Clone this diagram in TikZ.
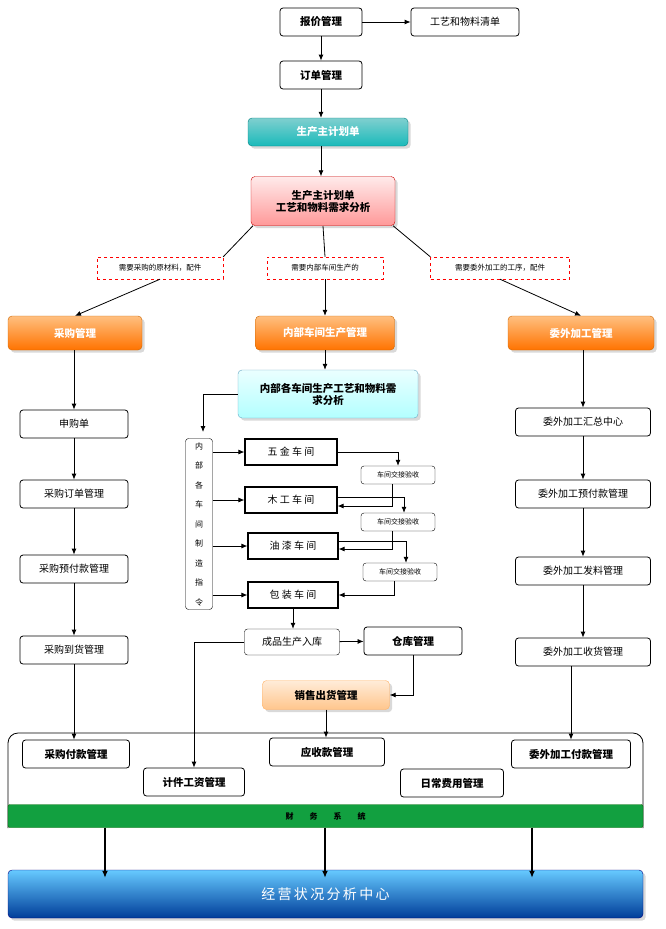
\documentclass[tikz,border=0pt]{standalone}
\usepackage{fontspec}
\setmainfont{Noto Sans CJK SC}
\usetikzlibrary{arrows.meta,shadows}
\definecolor{grn}{HTML}{12A040}
\begin{document}
\begin{tikzpicture}[x=1pt,y=-1pt,
 every node/.style={font=\fontsize{10}{12}\selectfont},
 box/.style={draw,thick,rounded corners=3pt,fill=white,minimum height=28pt,inner sep=2pt},
 bbox/.style={box,font=\bfseries\fontsize{10.5}{12}\selectfont},
 wk/.style={draw,very thick,minimum width=92pt,minimum height=26pt,font=\fontsize{10}{12}\selectfont},
 jj/.style={draw,rounded corners=3pt,minimum width=74pt,minimum height=18pt,font=\fontsize{7}{8}\selectfont},
 dl/.style={draw=red,dashed,fill=white,minimum height=22pt,font=\fontsize{7.5}{9}\selectfont},
 sh/.style={rounded corners=4pt,drop shadow={opacity=0.3},font=\bfseries\fontsize{10.5}{12}\selectfont},
 ar/.style={-{Latex[length=6pt,width=5pt]},thick},
 ln/.style={thick}]
\useasboundingbox (0,0) rectangle (665,929);
% top
\node[bbox,minimum width=82pt] (bj) at (321,22) {报价管理};
\node[box,minimum width=108pt] (gy) at (465,22) {工艺和物料清单};
\node[bbox,minimum width=82pt] (dd) at (321,75) {订单管理};
\node[sh,top color=cyan!25!teal!50,bottom color=teal!60!cyan!90,draw=teal,text=white,minimum width=160pt,minimum height=28pt] (jh) at (328,132) {生产主计划单};
\node[sh,top color=red!8,bottom color=red!40,draw=red!80!black,minimum width=144pt,minimum height=49pt,align=center] (fx) at (323,201) {生产主计划单\\工艺和物料需求分析};
\draw[ar] (bj) -- (gy);
\draw[ar] (bj) -- (dd);
\draw[ar] (dd) -- (dd |- jh.north);
\draw[ar] (jh.south -| dd) -- (dd |- fx.north);
% dashed labels
\node[dl,minimum width=126pt] (l1) at (160,268) {需要采购的原材料，配件};
\node[dl,minimum width=116pt] (l2) at (325,268) {需要内部车间生产的};
\node[dl,minimum width=139pt] (l3) at (500,268) {需要委外加工的工序，配件};
% orange
\node[sh,top color=orange!50,bottom color=orange!90!red,draw=orange!80!black,text=white,minimum width=134pt,minimum height=34pt] (cg) at (75,333) {采购管理};
\node[sh,top color=orange!50,bottom color=orange!90!red,draw=orange!80!black,text=white,minimum width=139pt,minimum height=34pt] (nb) at (325,333) {内部车间生产管理};
\node[sh,top color=orange!50,bottom color=orange!90!red,draw=orange!80!black,text=white,minimum width=146pt,minimum height=34pt] (ww) at (581,333) {委外加工管理};
\draw[ln] (fx.south) ++(-70,0) coordinate (f1) -- (l1.north east);
\draw[ln] (323,226) -- (l2.north);
\draw[ln] (fx.south) ++(70,0) coordinate (f3) -- (l3.north west);
\draw[ar] (l1.south) -- (cg.north);
\draw[ar] (l2.south) -- (nb.north);
\draw[ar] (l3.south) -- (ww.north);
% light blue
\node[sh,top color=cyan!8,bottom color=cyan!30,draw=cyan!50!gray,minimum width=180pt,minimum height=48pt,align=center] (nf) at (328,394) {内部各车间生产工艺和物料需\\求分析};
\draw[ar] (nb.south) -- (nb.south |- nf.north);
% left column
\node[box,minimum width=108pt] (a1) at (74,424) {申购单};
\node[box,minimum width=108pt] (a2) at (74,494) {采购订单管理};
\node[box,minimum width=108pt] (a3) at (74,569) {采购预付款管理};
\node[box,minimum width=108pt] (a4) at (74,650) {采购到货管理};
\draw[ar] (cg.south -| a1) -- (a1); \draw[ar] (a1) -- (a2); \draw[ar] (a2) -- (a3); \draw[ar] (a3) -- (a4);
% right column
\node[box,minimum width=135pt] (b1) at (583,422) {委外加工汇总中心};
\node[box,minimum width=135pt] (b2) at (583,494) {委外加工预付款管理};
\node[box,minimum width=135pt] (b3) at (583,571) {委外加工发料管理};
\node[box,minimum width=135pt] (b4) at (583,652) {委外加工收货管理};
\draw[ar] (ww.south -| b1) -- (b1); \draw[ar] (b1) -- (b2); \draw[ar] (b2) -- (b3); \draw[ar] (b3) -- (b4);
% command
\node[draw,rounded corners=3pt,minimum width=27pt,minimum height=171pt,align=center,font=\fontsize{8}{19.5}\selectfont] (cm) at (199,524) {内\\部\\各\\车\\间\\制\\造\\指\\令};
\draw[ar] (nf.west) -| (203,432);
\node[wk] (w1) at (291,452) {五 金 车 间};
\node[wk] (w2) at (291,500) {木 工 车 间};
\node[wk,minimum width=90pt] (w3) at (293,546) {油 漆 车 间};
\node[wk,minimum width=90pt] (w4) at (293,595) {包 装 车 间};
\foreach \w in {w1,w2,w3,w4}{\draw[ar] (cm.east |- \w) -- (\w.west);}
\node[jj] (j1) at (398,475) {车间交接验收};
\node[jj] (j2) at (398,522) {车间交接验收};
\node[jj] (j3) at (400,572) {车间交接验收};
\draw[ar] (w1.east) -| (j1.north);
\draw[ar] ([xshift=-6pt]j1.south) |- ([yshift=-6pt]w2.east);
\draw[ar] ([yshift=3pt]w2.east) -| ([xshift=6pt]j2.north);
\draw[ar] ([xshift=-6pt]j2.south) |- ([yshift=-3pt]w3.east);
\draw[ar] ([yshift=5pt]w3.east) -| ([xshift=6pt]j3.north);
\draw[ar] ([xshift=-6pt]j3.south) |- (w4.east);
\node[box,thin,minimum width=95pt,minimum height=26pt] (cp) at (292,642) {成品生产入库};
\node[bbox,minimum width=98pt] (ck) at (413,641) {仓库管理};
\node[sh,top color=orange!15,bottom color=orange!45,draw=orange!60,minimum width=127pt,minimum height=29pt] (xs) at (326,695) {销售出货管理};
\draw[ar] (w4) -- (w4 |- cp.north);
\draw[ar] (cp) -- (ck);
\draw[ar] (ck.south) |- (xs.east);
% finance container
\draw[thick,rounded corners=10pt,fill=white] (8,828) -- (8,733) -- (643,733) -- (643,828);
\node[bbox,minimum width=107pt] (c1) at (76,754) {采购付款管理};
\node[bbox,minimum width=101pt] (c2) at (194,782) {计件工资管理};
\node[bbox,minimum width=115pt] (c3) at (327,752) {应收款管理};
\node[bbox,minimum width=103pt] (c4) at (452,783) {日常费用管理};
\node[bbox,minimum width=119pt] (c5) at (571,754) {委外加工付款管理};
\node[draw=green!40!black,fill=grn,rounded corners=2pt,minimum width=635pt,minimum height=23pt,font=\bfseries\fontsize{8}{10}\selectfont] (cw) at (325.5,816) {财\hspace{2em}务\hspace{2em}系\hspace{2em}统};
\draw[ar] (a4) -- (a4 |- c1.north);
\draw[ar] (cp.west) -| (c2.north);
\draw[ar] (xs) -- (xs |- c3.north);
\draw[ar] (b4.south -| c5.north) -- (c5.north);
\node[sh,top color=blue!35!cyan!60,bottom color=blue!60!cyan!60!black,draw=blue!50!black,text=white,minimum width=635pt,minimum height=48pt,font=\fontsize{14}{16}\selectfont] (jy) at (325.5,894) {经\,营\,状\,况\,分\,析\,中\,心};
\foreach \x in {105,325,532}{\draw[-{Latex[length=7pt,width=6pt]},line width=2pt] (cw.south -| \x,0) -- ([yshift=-8pt]jy.north -| \x,0);}
\end{tikzpicture}
\end{document}
